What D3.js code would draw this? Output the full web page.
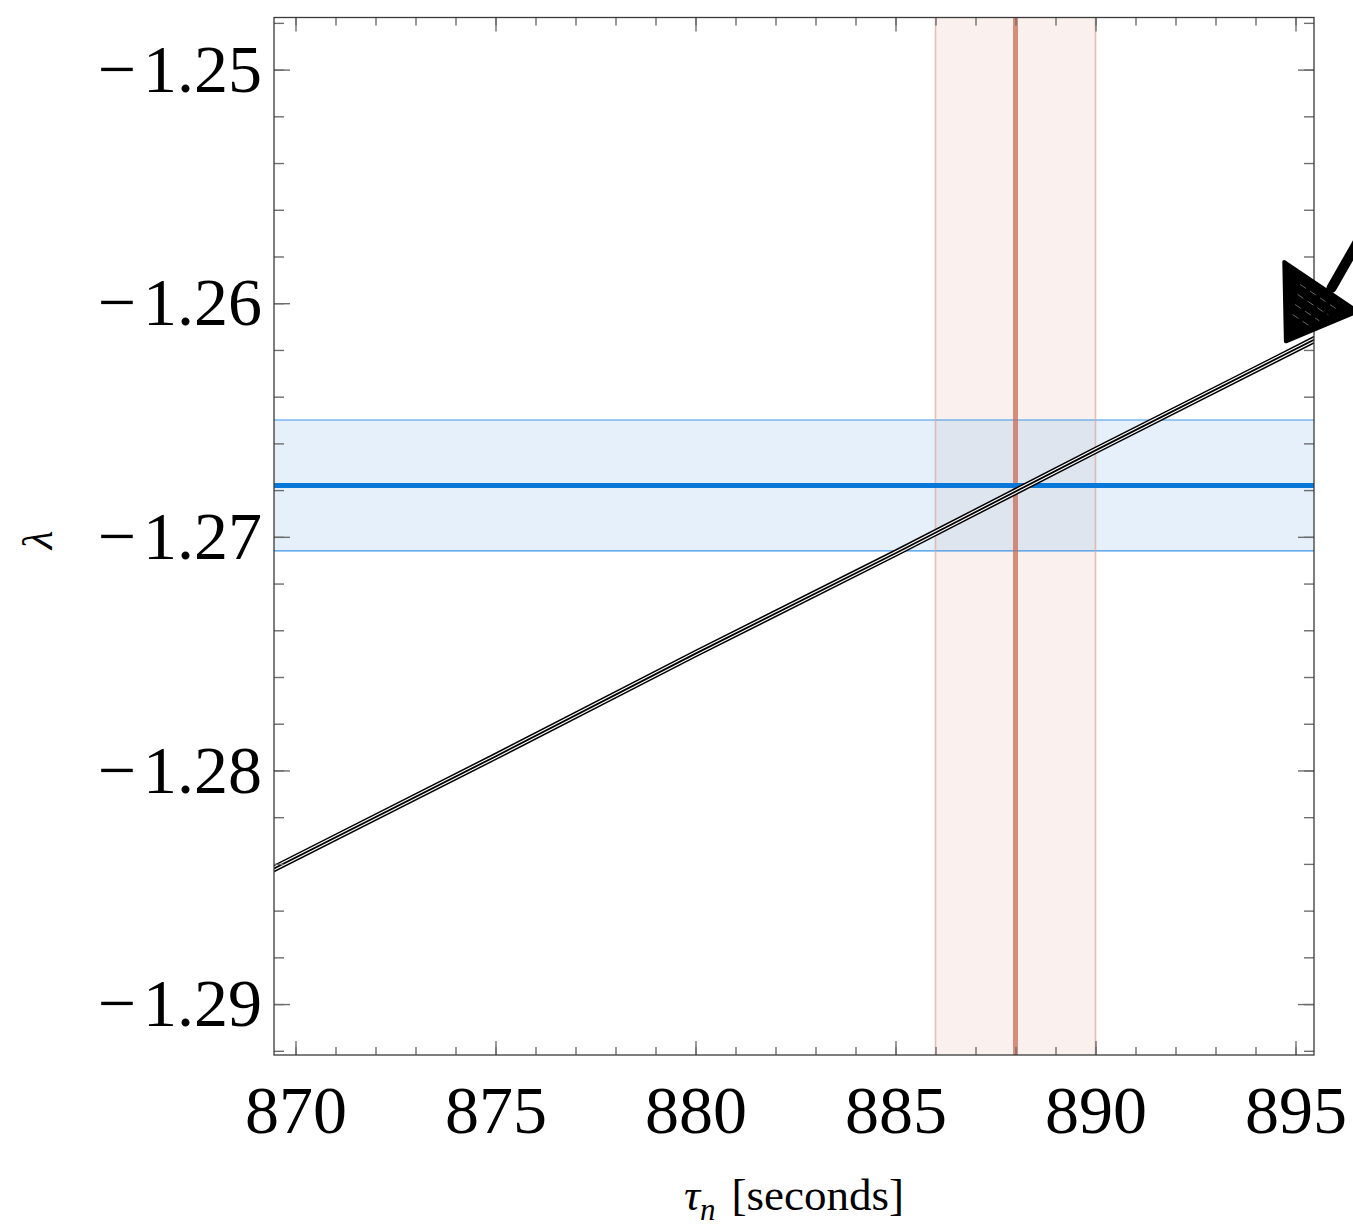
<!DOCTYPE html>
<html>
<head>
<meta charset="utf-8">
<script src="https://cdn.jsdelivr.net/npm/d3@7"></script>
<style>
  html, body { margin: 0; padding: 0; background: #fff; }
  svg { display: block; font-family: "Liberation Serif", "DejaVu Serif", serif; }
</style>
</head>
<body>
<svg id="chart" width="1353" height="1229"></svg>
<script>
// measured lambda (horizontal band) and lifetime (vertical band)
const lambdaCentral = -1.2678;
const lambdaError = 0.0028;
const tauCentral = 888;
const tauError = 2;

// theory curve lambda(tau)
const curveTau = [869, 875, 880, 885, 890, 896];
const curveLambda = [-1.2846, -1.2794, -1.2750, -1.2707, -1.2663, -1.2611];

// tick values
const xMajorTicks = [870, 875, 880, 885, 890, 895];
const xMinorTicks = d3.range(870, 896, 1);
const yMajorTicks = [-1.25, -1.26, -1.27, -1.28, -1.29];
const yMinorTicks = d3.range(-1292, -1247, 2).map((v) => v / 1000);

// hand drawn arrow pointing at the end of the curve (data units)
const arrowHead = [[894.76, -1.26163], [894.72, -1.25824], [896.55, -1.26035]];
const arrowShaft = [[896.75, -1.2568], [895.9, -1.25935]];

const plotLeft = 274, plotRight = 1314, plotTop = 17.5, plotBottom = 1055;

const x = d3.scaleLinear().domain([869.4625, 895.4625]).range([plotLeft, plotRight]);
const y = d3.scaleLinear().domain([-1.29218, -1.24777]).range([plotBottom, plotTop]);

const svg = d3.select('#chart');

svg.append('defs')
  .append('clipPath')
  .attr('id', 'plot-clip')
  .append('rect')
  .attr('x', plotLeft)
  .attr('y', plotTop)
  .attr('width', plotRight - plotLeft)
  .attr('height', plotBottom - plotTop);

const plot = svg.append('g').attr('clip-path', 'url(#plot-clip)');

const bandTop = y(lambdaCentral + lambdaError);
const bandBottom = y(lambdaCentral - lambdaError);
const bandLeft = x(tauCentral - tauError);
const bandRight = x(tauCentral + tauError);

// blue band (lambda measurement)
plot.append('rect')
  .attr('x', plotLeft)
  .attr('width', plotRight - plotLeft)
  .attr('y', bandTop)
  .attr('height', bandBottom - bandTop)
  .attr('fill', '#e5f0fb');

// red band (lifetime)
plot.append('rect')
  .attr('x', bandLeft)
  .attr('width', bandRight - bandLeft)
  .attr('y', plotTop)
  .attr('height', plotBottom - plotTop)
  .attr('fill', '#faf0ee');

// where both bands overlap
plot.append('rect')
  .attr('x', bandLeft)
  .attr('width', bandRight - bandLeft)
  .attr('y', bandTop)
  .attr('height', bandBottom - bandTop)
  .attr('fill', '#dfe5ee');

[lambdaCentral + lambdaError, lambdaCentral - lambdaError].forEach((v) => {
  plot.append('line')
    .attr('x1', plotLeft).attr('x2', plotRight)
    .attr('y1', y(v)).attr('y2', y(v))
    .attr('stroke', '#3d95e6')
    .attr('stroke-width', 1.2);
});

[tauCentral - tauError, tauCentral + tauError].forEach((v) => {
  plot.append('line')
    .attr('x1', x(v)).attr('x2', x(v))
    .attr('y1', plotTop).attr('y2', plotBottom)
    .attr('stroke', '#d8a898')
    .attr('stroke-opacity', 0.7)
    .attr('stroke-width', 1.6);
});

plot.append('line')
  .attr('x1', x(tauCentral)).attr('x2', x(tauCentral))
  .attr('y1', plotTop).attr('y2', plotBottom)
  .attr('stroke', '#c8684f')
  .attr('stroke-opacity', 0.72)
  .attr('stroke-width', 5);

// blue central line
plot.append('line')
  .attr('x1', plotLeft).attr('x2', plotRight)
  .attr('y1', y(lambdaCentral)).attr('y2', y(lambdaCentral))
  .attr('stroke', '#0a78d8')
  .attr('stroke-width', 5);

// triple black curve
const curve = d3.line()
  .x((d) => x(d[0]))
  .y((d) => y(d[1]));
const curveData = d3.zip(curveTau, curveLambda);

[['#000', 7], ['#fff', 4], ['#000', 1.8]].forEach(([c, w]) => {
  plot.append('path')
    .datum(curveData)
    .attr('d', curve)
    .attr('fill', 'none')
    .attr('stroke', c)
    .attr('stroke-width', w);
});

// frame and inward ticks on all four sides
function ticks(axis, values, size, transform, labels) {
  const g = svg.append('g')
    .attr('transform', transform)
    .call(axis.tickValues(values).tickSize(-size).tickPadding(labels ? labels.pad : 0)
      .tickFormat(labels ? labels.fmt : () => ''));
  g.select('.domain').remove();
  g.selectAll('.tick line').attr('stroke', '#6e6e6e').attr('stroke-width', 1.4);
  g.selectAll('.tick text')
    .attr('fill', '#000')
    .attr('font-size', 68)
    .attr('font-family', '"Liberation Serif", serif');
  return g;
}

ticks(d3.axisBottom(x), xMinorTicks, 8, `translate(0,${plotBottom})`);
ticks(d3.axisBottom(x), xMajorTicks, 14, `translate(0,${plotBottom})`, { pad: 30, fmt: d3.format('d') });
ticks(d3.axisTop(x), xMinorTicks, 8, `translate(0,${plotTop})`);
ticks(d3.axisTop(x), xMajorTicks, 14, `translate(0,${plotTop})`);
ticks(d3.axisLeft(y), yMinorTicks, 10, `translate(${plotLeft},0)`);
const yLabels = ticks(d3.axisLeft(y), yMajorTicks, 16, `translate(${plotLeft},0)`,
  { pad: 12, fmt: d3.format('.2f') });
// give the minus sign a little more room, like the TeX minus
yLabels.selectAll('.tick text').each(function () {
  const t = d3.select(this);
  const s = t.text();
  t.text(null);
  t.append('tspan').text(s.slice(0, 1));
  t.append('tspan').attr('dx', 7).text(s.slice(1));
});
ticks(d3.axisRight(y), yMinorTicks, 10, `translate(${plotRight},0)`);
ticks(d3.axisRight(y), yMajorTicks, 16, `translate(${plotRight},0)`);

svg.append('rect')
  .attr('x', plotLeft).attr('y', plotTop)
  .attr('width', plotRight - plotLeft).attr('height', plotBottom - plotTop)
  .attr('fill', 'none')
  .attr('stroke', '#3a3a3a')
  .attr('stroke-width', 1.3);

// axis titles
const xTitle = svg.append('text')
  .attr('x', (plotLeft + plotRight) / 2)
  .attr('y', 1210)
  .attr('text-anchor', 'middle')
  .attr('font-size', 45);
xTitle.append('tspan').attr('font-style', 'italic').text('τ');
xTitle.append('tspan').attr('font-style', 'italic').attr('font-size', 31).attr('dy', 10).text('n');
xTitle.append('tspan').attr('dy', -10).attr('dx', 16).text('[seconds]');

svg.append('text')
  .attr('transform', `translate(52,540) rotate(-90)`)
  .attr('text-anchor', 'middle')
  .attr('font-size', 43)
  .attr('font-style', 'italic')
  .text('λ');

// sketchy arrow
const arrow = svg.append('g');
arrow.append('path')
  .attr('d', d3.line()(arrowShaft.map((d) => [x(d[0]), y(d[1])])))
  .attr('stroke', '#000')
  .attr('stroke-width', 10)
  .attr('stroke-linecap', 'round');
const headPts = arrowHead.map((d) => [x(d[0]), y(d[1])]);
arrow.append('path')
  .attr('d', d3.line()(headPts) + 'Z')
  .attr('fill', '#000')
  .attr('stroke', '#000')
  .attr('stroke-width', 4)
  .attr('stroke-linejoin', 'round');
// a few light hatch strokes inside the head
const [tip, b1, b2] = headPts;
[0.4, 0.55, 0.7, 0.85].forEach((t) => {
  const p = [tip[0] + (b1[0] - tip[0]) * t, tip[1] + (b1[1] - tip[1]) * t];
  const q = [tip[0] + (b2[0] - tip[0]) * t, tip[1] + (b2[1] - tip[1]) * t];
  arrow.append('line')
    .attr('x1', p[0] + (q[0] - p[0]) * 0.25).attr('y1', p[1] + (q[1] - p[1]) * 0.25)
    .attr('x2', p[0] + (q[0] - p[0]) * 0.85).attr('y2', p[1] + (q[1] - p[1]) * 0.85)
    .attr('stroke', '#fff')
    .attr('stroke-opacity', 0.4)
    .attr('stroke-width', 1)
    .attr('stroke-dasharray', '7,5');
});
</script>
</body>
</html>
